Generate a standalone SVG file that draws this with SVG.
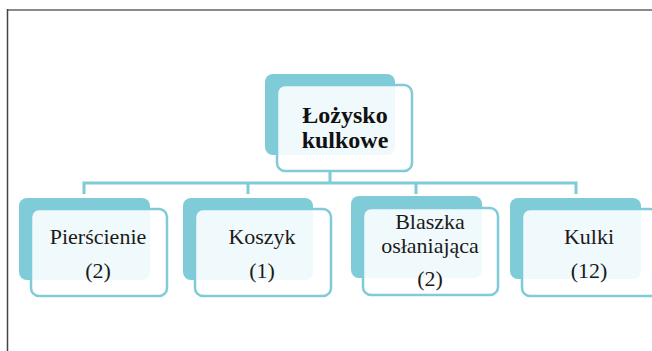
<svg xmlns="http://www.w3.org/2000/svg" width="652" height="351" viewBox="0 0 652 351">
<style>
.back{fill:#80cbd8}
.front{fill:#ffffff;fill-opacity:0.88;stroke:#80cbd8;stroke-width:2.5}
.conn{fill:none;stroke:#80cbd8;stroke-width:3}
.t{font-family:'Liberation Serif','Times New Roman',serif;font-size:22px;fill:#1a1a1a;text-anchor:middle}
.tb{font-family:'Liberation Serif','Times New Roman',serif;font-size:24px;font-weight:bold;fill:#111;text-anchor:middle}
</style>
<rect width="652" height="351" fill="#ffffff"/>
<line x1="7" y1="10" x2="652" y2="10" stroke="#8a8a8a" stroke-width="2"/>
<line x1="7.5" y1="9" x2="7.5" y2="351" stroke="#444" stroke-width="1.5"/>
<g id="connectors">
<path class="conn" d="M330 171 V183 M84 194 V183 H576 V194 M248 183 V194 M416 183 V194"/>
</g>
<g id="root">
<rect class="back" x="265" y="74" width="130" height="81" rx="8"/>
<rect class="front" x="277" y="85" width="135" height="86" rx="8"/>
<text class="tb" x="345" y="123">Łożysko</text>
<text class="tb" x="345" y="148">kulkowe</text>
</g>
<g id="pierscienie">
<rect class="back" x="19" y="198" width="131" height="82" rx="8"/>
<rect class="front" x="31" y="209" width="136" height="87" rx="8"/>
<text class="t" x="98" y="244">Pierścienie</text>
<text class="t" x="98" y="278">(2)</text>
</g>
<g id="koszyk">
<rect class="back" x="183" y="198" width="130" height="82" rx="8"/>
<rect class="front" x="195" y="209" width="136" height="87" rx="8"/>
<text class="t" x="262" y="244">Koszyk</text>
<text class="t" x="262" y="278">(1)</text>
</g>
<g id="blaszka">
<rect class="back" x="351" y="196" width="131" height="82" rx="8"/>
<rect class="front" x="363" y="208" width="135" height="87" rx="8"/>
<text class="t" x="430" y="229">Blaszka</text>
<text class="t" x="430" y="253">osłaniająca</text>
<text class="t" x="430" y="286">(2)</text>
</g>
<g id="kulki">
<rect class="back" x="510" y="198" width="131" height="81" rx="8"/>
<rect class="front" x="522" y="209" width="136" height="87" rx="8"/>
<text class="t" x="589" y="244">Kulki</text>
<text class="t" x="589" y="278">(12)</text>
</g>
</svg>
